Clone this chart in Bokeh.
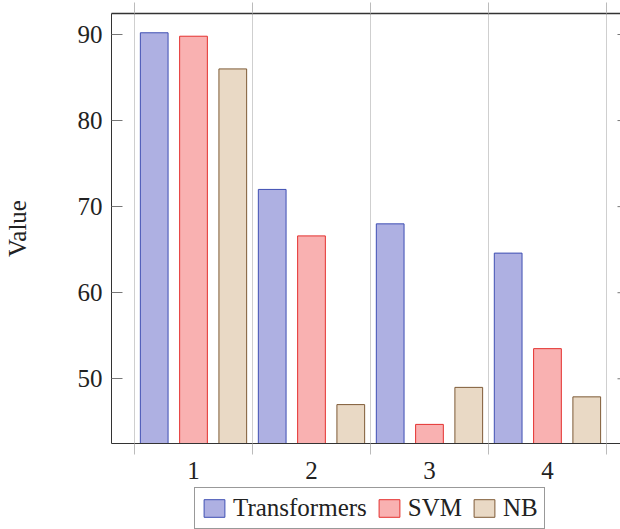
from bokeh.plotting import figure
from bokeh.layouts import column
from bokeh.models import (Range1d, FixedTicker, LinearAxis, Legend, LegendItem,
                          ColumnDataSource)
from bokeh.embed import file_html
from bokeh.resources import INLINE

# ---- data ----
groups = [1, 2, 3, 4]
series_names = ["Transformers", "SVM", "NB"]
transformers = [90.2, 72.0, 68.0, 64.6]
svm = [89.8, 66.6, 44.7, 53.5]
nb = [86.0, 47.0, 49.0, 47.9]
y_ticks = [50, 60, 70, 80, 90]
x_labels = ["1", "2", "3", "4"]

fills = ["#aeb0e2", "#f9b1b1", "#e9d9c5"]
lines = ["#3f4fb3", "#e4312f", "#7e5a36"]
offsets = [-0.333, 0.0, 0.333]
bar_w = 0.235

FONT = "Liberation Serif"
FS = "25px"

x0, x1 = 0.305, 4.619
y0, y1 = 42.48, 92.44

p = figure(frame_width=509, frame_height=430,
           x_range=Range1d(x0, x1), y_range=Range1d(y0, y1),
           output_backend="svg", toolbar_location=None,
           x_axis_location=None, y_axis_location=None,
           min_border_left=111, min_border_right=0,
           min_border_top=13, min_border_bottom=44)
p.outline_line_color = None
p.background_fill_color = "white"
p.border_fill_color = "white"

# grid (vertical lines between groups)
half = [g - 0.5 for g in groups] + [groups[-1] + 0.5]
p.xgrid.ticker = FixedTicker(ticks=half)
p.xgrid.grid_line_color = "#cfcfcf"
p.xgrid.grid_line_width = 1
p.ygrid.grid_line_color = None

for vals, off, fc, lc in zip([transformers, svm, nb], offsets, fills, lines):
    src = ColumnDataSource(dict(x=[g + off for g in groups], top=vals))
    p.vbar(x="x", top="top", bottom=0, width=bar_w, source=src,
           fill_color=fc, line_color=lc, line_width=1)

# right-side inward tick marks (axis spine lies just beyond the visible area)
tick_len = 3.0 / 118.0
p.segment(x0=[x1 - tick_len] * len(y_ticks), y0=y_ticks,
          x1=[x1] * len(y_ticks), y1=y_ticks, line_color="#777777", line_width=1)

# left axis
ya = LinearAxis(ticker=FixedTicker(ticks=y_ticks))
ya.axis_label = "Value"
ya.axis_label_text_font = FONT
ya.axis_label_text_font_size = FS
ya.axis_label_text_font_style = "normal"
ya.axis_label_text_color = "#222222"
ya.axis_label_standoff = 44
ya.major_label_text_font = FONT
ya.major_label_text_font_size = FS
ya.major_label_text_color = "#222222"
ya.major_label_standoff = 9
ya.major_tick_in = 11
ya.major_tick_out = 0
ya.major_tick_line_color = "#777777"
ya.minor_tick_line_color = None
ya.axis_line_color = "#333333"
p.add_layout(ya, "left")

# top axis (spine + outward ticks at group boundaries)
ta = LinearAxis(ticker=FixedTicker(ticks=[], minor_ticks=half))
ta.major_tick_out = 0
ta.major_tick_in = 0
ta.minor_tick_out = 11
ta.minor_tick_in = 0
ta.minor_tick_line_color = "#bbbbbb"
ta.major_label_standoff = 0
ta.axis_line_color = "#333333"
ta.axis_line_width = 1.5
p.add_layout(ta, "above")

# bottom axis
xa = LinearAxis(ticker=FixedTicker(ticks=groups, minor_ticks=half))
xa.major_label_overrides = {g: lab for g, lab in zip(groups, x_labels)}
xa.major_label_text_font = FONT
xa.major_label_text_font_size = FS
xa.major_label_text_color = "#222222"
xa.major_label_standoff = 7
xa.major_tick_line_color = None
xa.major_tick_out = 0
xa.major_tick_in = 0
xa.minor_tick_out = 11
xa.minor_tick_in = 0
xa.minor_tick_line_color = "#bbbbbb"
xa.axis_line_color = "#333333"
p.add_layout(xa, "below")

# ---- legend strip (separate figure below the chart) ----
# proxy bars sit outside this strip's visible range; only their legend icons show
pl = figure(width=620, height=42, x_range=Range1d(-3, -2), y_range=Range1d(-3, -2),
            output_backend="svg", toolbar_location=None,
            x_axis_location=None, y_axis_location=None,
            min_border_left=0, min_border_right=0,
            min_border_top=0, min_border_bottom=0)
pl.outline_line_color = None
pl.xgrid.grid_line_color = None
pl.ygrid.grid_line_color = None
items = []
for name, vals, fc, lc in zip(series_names, [transformers, svm, nb], fills, lines):
    r = pl.vbar(x=[groups[0]], top=[vals[0]], bottom=0, width=bar_w,
                fill_color=fc, line_color=lc, line_width=1)
    items.append(LegendItem(label=name, renderers=[r]))
legend = Legend(items=items, orientation="horizontal", location=(83, 0))
legend.label_text_font = FONT
legend.label_text_font_size = FS
legend.label_text_color = "#222222"
legend.glyph_width = 26
legend.glyph_height = 22
legend.label_standoff = 6
legend.spacing = 9
legend.padding = 6
legend.margin = 0
legend.border_line_color = "#333333"
legend.border_line_width = 1
legend.background_fill_alpha = 1
pl.add_layout(legend, "center")

layout = column(p, pl, spacing=0)
open("out.html", "w").write(file_html(layout, INLINE))
